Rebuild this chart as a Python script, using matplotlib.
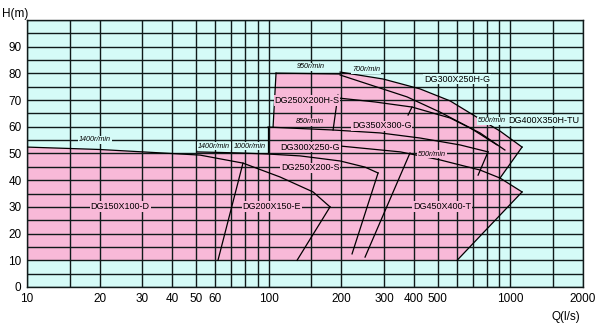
import numpy as np
import matplotlib
matplotlib.use("Agg")
import matplotlib.pyplot as plt

# couleurs du diagramme
CYAN = "#d5fbf7"
ROSE = "#f8b9d8"
GRILLE = "#101a1a"

# --- courbes H-Q des pompes (Q en l/s, H en m) ---
# DG150X100-D / DG200X150-E, 1400 r/min
q_a = [10, 20, 30.2, 52, 78.3, 111.5, 152.7, 179.5]
h_a = [52.4, 51.5, 50.6, 49.4, 46.4, 41.2, 35.6, 30.0]
q_a_droite = [78.3, 61.7]
h_a_droite = [46.4, 10]
q_b_droite = [179.5, 131.1]
h_b_droite = [30.0, 10]

# DG250X200-S, 1000 r/min
q_c = [50.5, 76.1, 99.4, 134.9, 197.6, 250.6, 283.7]
h_c = [50.6, 50.2, 49.8, 49.1, 47.2, 44.9, 42.7]
q_c_droite = [283.7, 221.4]
h_c_droite = [42.7, 12.4]

# DG450X400-T, 500 r/min
q_d = [197.6, 351, 512, 750, 907, 1119]
h_d = [52.8, 50.6, 47.6, 43.8, 40.8, 35.6]
q_d_droite = [1119, 602.6]
h_d_droite = [35.6, 10]
q_d_gauche = [384.6, 250.6]
h_d_gauche = [50.2, 11.2]

# DG300X250-G / 850 r/min
q_e = [99.4, 184.8, 289.9, 423, 620, 809]
h_e = [59.9, 58.8, 57.7, 55.8, 53.2, 50.6]
q_e_gauche = [99.4, 99.4]
h_e_gauche = [59.9, 50.6]
q_e_droite = [809, 736]
h_e_droite = [50.6, 41.9]

# DG250X200H-S, 950 r/min
q_s = [107.3, 197.6]
h_s = [80.1, 79.8]
q_s_gauche = [104.3, 107.3]
h_s_gauche = [59.9, 80.1]
q_u0 = [197.6, 374, 512, 682, 882]
h_u0 = [79.4, 71.2, 65.5, 59.6, 53.2]

# DG300X250H-G, 700 r/min
q_u1 = [197.6, 297.5, 423, 563.6, 715, 907, 1119]
h_u1 = [80.5, 77.9, 74.2, 69.7, 64.0, 58.4, 52.4]
q_u1_droite = [1119, 907]
h_u1_droite = [52.4, 40.8]

# DG350X300-G
q_f = [193.6, 275.6, 392, 563.6, 750, 950]
h_f = [70.8, 69.3, 67.4, 63.3, 57.7, 51.3]
q_f_gauche = [193.6, 184.8]
h_f_gauche = [71.9, 58.8]
q_f_coupe = [392, 377.6]
h_f_coupe = [67.4, 64.4]

# étiquettes : (texte, Q, H)
noms_pompes = [
    ("DG150X100-D", 24.3, 30.0),
    ("DG200X150-E", 103, 30.0),
    ("DG450X400-T", 522, 30.0),
    ("DG250X200-S", 148.7, 44.6),
    ("DG300X250-G", 148.7, 52.4),
    ("DG350X300-G", 294, 60.3),
    ("DG250X200H-S", 144, 70.0),
    ("DG300X250H-G", 603, 77.9),
    ("DG400X350H-TU", 1380, 62.5),
]
vitesses = [
    ("1400r/min", 19.1, 55.1, CYAN),
    ("1400r/min", 59.4, 52.8, CYAN),
    ("1000r/min", 83.8, 52.8, CYAN),
    ("950r/min", 148.7, 82.4, CYAN),
    ("850r/min", 148.7, 61.8, ROSE),
    ("700r/min", 253, 81.3, CYAN),
    ("500r/min", 841, 62.2, CYAN),
    ("500r/min", 474, 49.8, ROSE),
]

ticks_x = [10, 20, 30, 40, 50, 60, 100, 200, 300, 400, 500, 1000, 2000]
grille_x = [15, 70, 80, 90, 150, 600, 700, 800, 900, 1500]

plt.rcParams["font.family"] = ["Liberation Sans", "DejaVu Sans"]

fig = plt.figure(figsize=(5.99, 3.29), dpi=100)
ax = fig.add_axes([0.0451, 0.1277, 0.9282, 0.8115])
ax.set_facecolor(CYAN)
ax.set_xscale("log")
ax.set_xlim(10, 2000)
ax.set_ylim(0, 100)

# zones roses (remplissage)
zones = [
    (q_a + [131.1, 10], h_a + [10, 10]),
    (q_c + [221.4, 221.4, 50.5], h_c + [12.4, 10, 10]),
    (q_d + [602.6, 197.6], h_d + [10, 10]),
    ([99.4, 104.3] + q_s + q_u1 + [907, 99.4], [59.9, 59.9] + h_s + h_u1 + [40.8, 40.8]),
]
for qz, hz in zones:
    ax.fill(qz, hz, color=ROSE, lw=0, zorder=1)

# grille
for y in np.arange(0, 101, 5):
    ax.axhline(y, color=GRILLE, lw=1.0, zorder=2)
for x in ticks_x + grille_x:
    ax.axvline(x, color=GRILLE, lw=1.0, zorder=2)

# courbes noires
courbes = [
    (q_a, h_a), (q_a_droite, h_a_droite), (q_b_droite, h_b_droite),
    (q_c, h_c), (q_c_droite, h_c_droite),
    (q_d, h_d), (q_d_droite, h_d_droite), (q_d_gauche, h_d_gauche),
    (q_e, h_e), (q_e_gauche, h_e_gauche), (q_e_droite, h_e_droite),
    (q_s, h_s), (q_s_gauche, h_s_gauche), (q_u0, h_u0),
    (q_u1, h_u1), (q_u1_droite, h_u1_droite),
    (q_f, h_f), (q_f_gauche, h_f_gauche), (q_f_coupe, h_f_coupe),
]
for qc, hc in courbes:
    ax.plot(qc, hc, color="black", lw=0.9, zorder=3)

for texte, q, h in noms_pompes:
    fond = CYAN if texte in ("DG300X250H-G", "DG400X350H-TU") else ROSE
    ax.text(q, h, texte, fontsize=6.5, ha="center", va="center", zorder=4,
            bbox=dict(boxstyle="square,pad=0.1", fc=fond, ec="none"))
for texte, q, h, fond in vitesses:
    ax.text(q, h, texte, fontsize=5.2, style="italic", ha="center", va="center",
            zorder=4, bbox=dict(boxstyle="square,pad=0.1", fc=fond, ec="none"))

ax.set_xticks(ticks_x)
ax.set_xticklabels([str(t) for t in ticks_x])
ax.xaxis.set_minor_locator(matplotlib.ticker.NullLocator())
ax.set_yticks(range(0, 100, 10))
ax.tick_params(length=0, labelsize=8.5, pad=4)
for s in ax.spines.values():
    s.set_color(GRILLE)
    s.set_linewidth(1.0)

fig.text(0.025, 0.975, "H(m)", fontsize=8.5, ha="center", va="top")
fig.text(0.945, 0.035, "Q(l/s)", fontsize=8.5, ha="center", va="center")

fig.savefig("out.png", dpi=100)
